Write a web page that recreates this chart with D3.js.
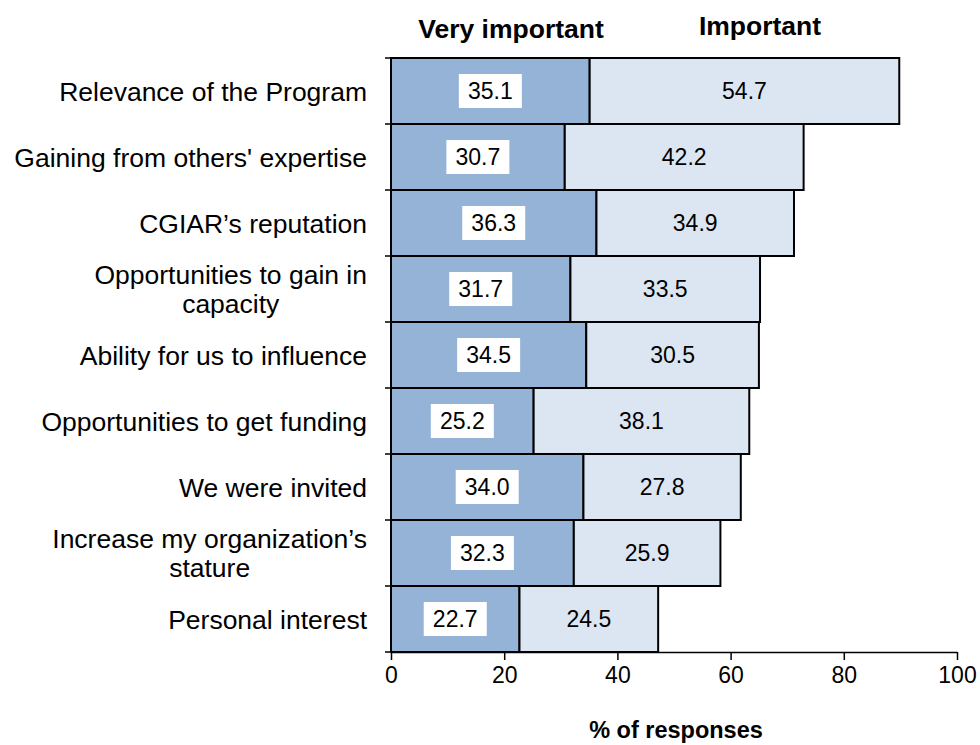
<!DOCTYPE html>
<html>
<head>
<meta charset="utf-8">
<script src="https://cdn.jsdelivr.net/npm/d3@7"></script>
<style>
  body { margin: 0; background: #fff; }
  text { font-family: Arial, "Liberation Sans", sans-serif; fill: #000; }
</style>
</head>
<body>
<svg width="980" height="745"></svg>
<script>
// data
const categories = [
  ["Relevance of the Program"],
  ["Gaining from others' expertise"],
  ["CGIAR\u2019s reputation"],
  ["Opportunities to gain in", "capacity"],
  ["Ability for us to influence"],
  ["Opportunities to get funding"],
  ["We were invited"],
  ["Increase my organization\u2019s", "stature"],
  ["Personal interest"]
];
const veryImportant = [35.1, 30.7, 36.3, 31.7, 34.5, 25.2, 34.0, 32.3, 22.7];
const important = [54.7, 42.2, 34.9, 33.5, 30.5, 38.1, 27.8, 25.9, 24.5];
const seriesNames = ["Very important", "Important"];
const xTicks = [0, 20, 40, 60, 80, 100];

const colors = ["#95b3d7", "#dce6f2"];

var svg = d3.select("svg");
var margin = { left: 391, right: 23, top: 58, bottom: 93 };
var W = 980, H = 745;

var x = d3.scaleLinear().domain([0, 100]).range([margin.left, W - margin.right]);
var y = d3.scaleBand().domain(d3.range(categories.length))
    .range([margin.top, H - margin.bottom]).padding(0);

let rows = categories.map((c, i) => ({ i: i, lines: c, v: veryImportant[i], im: important[i] }));

// bars
let g = svg.append("g");
g.selectAll("rect.vi").data(rows).enter().append("rect")
    .attr("class", "vi")
    .attr("x", x(0))
    .attr("y", d => y(d.i))
    .attr("width", d => x(d.v) - x(0))
    .attr("height", y.bandwidth())
    .attr("fill", colors[0])
    .attr("stroke", "#000").attr("stroke-width", 2);

g.selectAll("rect.im").data(rows).enter().append("rect")
    .attr("class", "im")
    .attr("x", d => x(d.v))
    .attr("y", d => y(d.i))
    .attr("width", d => x(d.v + d.im) - x(d.v))
    .attr("height", y.bandwidth())
    .attr("fill", colors[1])
    .attr("stroke", "#000").attr("stroke-width", 2);

// value labels
rows.forEach(d => {
  let cy = y(d.i) + y.bandwidth() / 2;
  let cx = (x(0) + x(d.v)) / 2;
  g.append("rect")
      .attr("x", cx - 31.5).attr("y", cy - 17)
      .attr("width", 63).attr("height", 34)
      .attr("fill", "#fff");
  g.append("text")
      .attr("x", cx).attr("y", cy)
      .attr("dy", "0.36em")
      .attr("text-anchor", "middle")
      .style("font-size", "23px")
      .text(d.v.toFixed(1));
  g.append("text")
      .attr("x", (x(d.v) + x(d.v + d.im)) / 2).attr("y", cy)
      .attr("dy", "0.36em")
      .attr("text-anchor", "middle")
      .style("font-size", "23px")
      .text(d.im.toFixed(1));
});

// y axis: line plus ticks at band edges
let yAxis = svg.append("g");
yAxis.append("line")
    .attr("x1", x(0)).attr("x2", x(0))
    .attr("y1", margin.top).attr("y2", H - margin.bottom)
    .attr("stroke", "#000").attr("stroke-width", 1.5);
yAxis.selectAll("line.tick").data(d3.range(categories.length + 1)).enter().append("line")
    .attr("x1", x(0) - 6).attr("x2", x(0))
    .attr("y1", i => margin.top + i * y.bandwidth())
    .attr("y2", i => margin.top + i * y.bandwidth())
    .attr("stroke", "#000").attr("stroke-width", 1.5);

// category labels, each block right aligned, lines centred on each other
rows.forEach(d => {
  let cy = y(d.i) + y.bandwidth() / 2;
  let lh = 29;
  let t = svg.append("text")
      .attr("text-anchor", "middle")
      .style("font-size", "26.5px");
  let spans = d.lines.map((ln, k) => t.append("tspan")
      .attr("y", cy + (k - (d.lines.length - 1) / 2) * lh)
      .attr("dy", "0.36em")
      .text(ln));
  let maxW = d3.max(spans, s => s.node().getComputedTextLength());
  spans.forEach(s => s.attr("x", 367 - maxW / 2));
});

// x axis
let xAxis = svg.append("g")
    .attr("transform", `translate(0,${H - margin.bottom})`)
    .call(d3.axisBottom(x).tickValues(xTicks).tickSize(8).tickSizeOuter(0).tickPadding(7));
xAxis.select(".domain").attr("stroke", "#000").attr("stroke-width", 1.5);
xAxis.selectAll(".tick line").attr("stroke", "#000").attr("stroke-width", 1.5);
xAxis.selectAll(".tick text")
    .style("font-family", "Arial, 'Liberation Sans', sans-serif")
    .style("font-size", "23px")
    .attr("fill", "#000");

// axis title
svg.append("text")
    .attr("x", (x(0) + x(100)) / 2 + 2).attr("y", 738)
    .attr("text-anchor", "middle")
    .style("font-size", "23.5px").style("font-weight", "bold")
    .text("% of responses");

// column headers
svg.append("text")
    .attr("x", 511).attr("y", 38)
    .attr("text-anchor", "middle")
    .style("font-size", "26.5px").style("font-weight", "bold")
    .text(seriesNames[0]);
svg.append("text")
    .attr("x", 760).attr("y", 35)
    .attr("text-anchor", "middle")
    .style("font-size", "26.5px").style("font-weight", "bold")
    .text(seriesNames[1]);
</script>
</body>
</html>
